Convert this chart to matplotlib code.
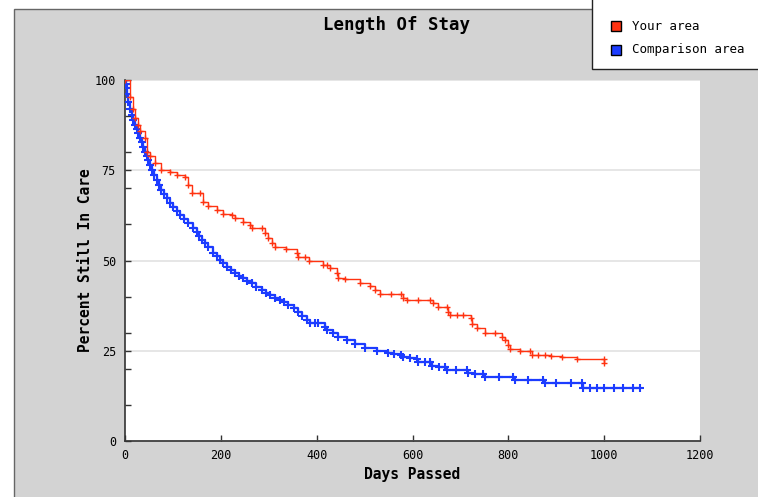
import matplotlib
matplotlib.use("Agg")
import matplotlib.pyplot as plt
from matplotlib.patches import Rectangle

# ---- data ----
your_days = [0, 10, 16, 21, 28, 31, 42, 45, 52, 63, 76, 94, 108, 125, 132, 139, 156,
             163, 174, 191, 205, 223, 230, 247, 261, 264, 285, 292, 299, 306, 313, 337,
             358, 360, 376, 383, 414, 421, 428, 442, 444, 459, 490, 511, 522, 532, 555,
             577, 581, 588, 612, 636, 643, 654, 671, 675, 678, 693, 706, 723, 725, 734,
             751, 772, 786, 793, 800, 803, 824, 845, 849, 862, 876, 890, 911, 943, 1000,
             1000]
your_pct = [100, 95.3, 92, 89.4, 87.5, 86, 83.8, 80, 79, 77, 75, 74.6, 73.7, 73.2, 71,
            68.6, 68.6, 66.3, 65, 64, 63, 62.6, 61.7, 60.7, 59.8, 58.9, 58.9, 57.5, 56.1,
            54.8, 53.7, 53.1, 52, 51, 50.9, 49.9, 48.8, 48.8, 47.8, 46.4, 45.1, 44.9,
            43.9, 42.9, 41.8, 40.8, 40.8, 40.8, 39.5, 39.1, 39.1, 39.1, 38.1, 37, 37,
            35.8, 34.9, 34.9, 34.9, 34, 32.5, 31.2, 30, 29.8, 28.9, 28, 26.6, 25.4, 25,
            25, 23.8, 23.8, 23.8, 23.5, 23.2, 22.8, 22.8, 21.7]

comp_days = [0, 2, 3.5, 5, 7, 10, 14, 17, 21, 24, 28, 31, 35, 38, 42, 45, 49, 52, 56,
             61, 66, 71, 76, 82, 87, 94, 101, 108, 115, 123, 132, 141, 150, 155, 160,
             167, 174, 184, 191, 198, 205, 212, 221, 230, 238, 247, 255, 264, 274, 285,
             294, 303, 313, 323, 332, 341, 352, 362, 370, 379, 386, 396, 403, 417, 421,
             435, 445, 463, 480, 501, 525, 549, 562, 577, 581, 595, 609, 612, 626, 636,
             640, 655, 668, 671, 690, 713, 716, 730, 748, 751, 780, 810, 814, 840, 873,
             877, 900, 930, 953, 956, 970, 985, 1000, 1020, 1040, 1060, 1075]
comp_pct = [100, 98.8, 97.7, 96, 94, 92, 90.3, 89, 87.5, 86.3, 85.2, 84, 82.9, 81.5,
            80.1, 79, 77.8, 76.5, 75.1, 73.7, 72.3, 70.9, 69.5, 68.3, 67.2, 66, 64.9,
            63.7, 62.6, 61.4, 60.3, 59.1, 58, 56.9, 55.7, 54.8, 53.8, 52.2, 51.2, 50.1,
            49.2, 48.3, 47.3, 46.4, 45.8, 45.1, 44.4, 43.7, 42.7, 41.8, 41.1, 40.4, 39.7,
            39.1, 38.4, 37.7, 36.8, 35.8, 34.6, 33.5, 32.8, 32.6, 32.6, 31.7, 30.7, 29.8,
            28.9, 28, 26.9, 25.7, 25, 24.3, 24.1, 23.8, 23.2, 22.9, 22.6, 21.8, 21.8,
            21.8, 20.8, 20.6, 20.6, 19.7, 19.7, 19.7, 18.8, 18.6, 18.6, 17.8, 17.8, 17.8,
            16.9, 16.9, 16.9, 16, 16, 16, 16, 14.8, 14.8, 14.8, 14.8, 14.8, 14.8, 14.8,
            14.8]

series_names = ["Your area", "Comparison area"]
x_ticks = [0, 200, 400, 600, 800, 1000, 1200]
y_ticks = [0, 25, 50, 75, 100]
y_minor = [10, 20, 30, 40, 60, 70, 80, 90]

RED = "#ff3311"
BLUE = "#1c3cff"
W, H = 758, 497
MONO = "DejaVu Sans Mono"

fig = plt.figure(figsize=(W / 100, H / 100), dpi=100, facecolor="white")

# grey panel
fig.patches.append(Rectangle((14 / W, -0.05), 1.1, (H - 9) / H + 0.05,
                             transform=fig.transFigure, facecolor="#d3d3d3",
                             edgecolor="#666666", linewidth=1, zorder=0))

ax = fig.add_axes([125 / W, (H - 441) / H, 575 / W, 361 / H])
ax.set_facecolor("white")
ax.set_zorder(2)

ax.step(comp_days, comp_pct, where="post", color=BLUE, lw=1.6, zorder=3)
ax.plot(comp_days, comp_pct, "+", color=BLUE, ms=5.5, mew=1.5, zorder=3)
ax.step(your_days, your_pct, where="post", color=RED, lw=1.0, zorder=4)
ax.plot(your_days, your_pct, "+", color=RED, ms=5, mew=1.0, zorder=4)

ax.set_xlim(0, 1200)
ax.set_ylim(0, 100)
ax.set_xticks(x_ticks)
ax.set_yticks(y_ticks)
ax.set_yticks(y_minor, minor=True)
ax.set_xticklabels([str(t) for t in x_ticks], fontfamily=MONO, fontsize=8.5)
ax.set_yticklabels([str(t) for t in y_ticks], fontfamily=MONO, fontsize=8.5)
ax.tick_params(axis="both", which="both", direction="in", length=4, width=1,
               color="#333333")
ax.tick_params(axis="y", pad=6.5)
ax.tick_params(axis="x", pad=6, bottom=True)
ax.tick_params(axis="x", which="minor", bottom=False)
ax.grid(axis="y", which="major", color="#e2e2e2", lw=1.2, zorder=1)
ax.set_axisbelow(True)
for s in ("top", "right"):
    ax.spines[s].set_visible(False)
for s in ("left", "bottom"):
    ax.spines[s].set_color("#333333")
    ax.spines[s].set_linewidth(1.2)

# titles / labels
fig.text(396 / W, (H - 30) / H, "Length Of Stay", ha="center", va="baseline",
         fontfamily=MONO, fontsize=12.5, fontweight="bold", zorder=5)
fig.text(412 / W, (H - 474) / H, "Days Passed", ha="center", va="center",
         fontfamily=MONO, fontsize=10.5, fontweight="bold", zorder=5)
fig.text(85 / W, (H - 260.5) / H, "Percent Still In Care", ha="center", va="center",
         rotation=90, fontfamily=MONO, fontsize=10.5, fontweight="bold", zorder=5)

# legend box
fig.patches.append(Rectangle((591.5 / W, (H - 69) / H), 0.5, 0.5,
                             transform=fig.transFigure, facecolor="white",
                             edgecolor="#222222", linewidth=1, zorder=3))
for i, (name, col) in enumerate(zip(series_names, [RED, BLUE])):
    yc = 26 + i * 24
    fig.patches.append(Rectangle((610.5 / W, (H - yc - 5) / H), 10 / W, 10 / H,
                                 transform=fig.transFigure, facecolor=col,
                                 edgecolor="black", linewidth=1, zorder=4))
    fig.text(632 / W, (H - yc) / H, name, ha="left", va="center",
             fontfamily=MONO, fontsize=9, zorder=5)

fig.savefig("out.png", dpi=100, facecolor="white")
